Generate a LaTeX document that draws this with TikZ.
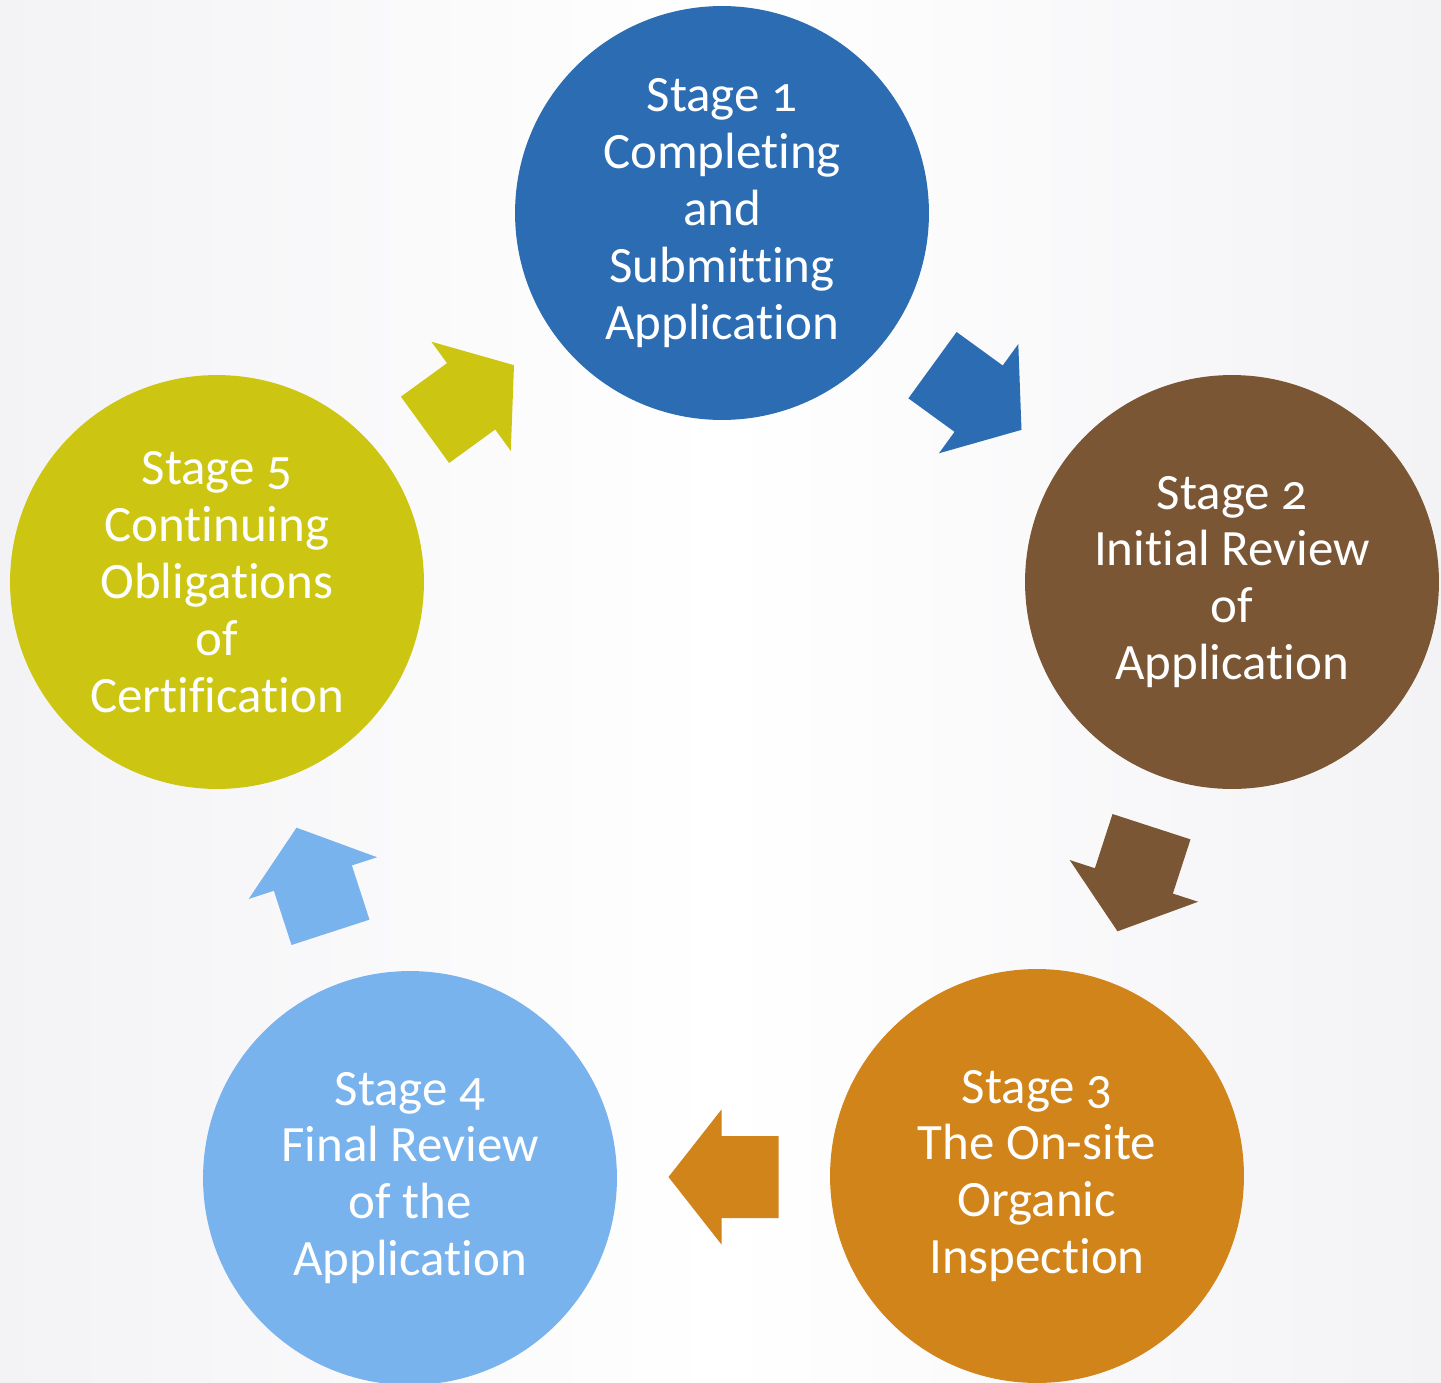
\documentclass[tikz,border=0pt]{standalone}
\usepackage{fontspec}
\setmainfont{Carlito}[Numbers=OldStyle,Ligatures=NoCommon]
\usepackage{tikz}
\usetikzlibrary{calc}

\definecolor{stageblue}{RGB}{43,108,178}
\definecolor{stagebrown}{RGB}{122,86,52}
\definecolor{stageorange}{RGB}{208,132,26}
\definecolor{stagesky}{RGB}{121,179,238}
\definecolor{stageolive}{RGB}{204,198,18}
\definecolor{paper}{RGB}{243,243,246}

\begin{document}
\begin{tikzpicture}[x=0.02cm,y=-0.02cm,
	stage node/.style={circle,minimum size=8.28cm,inner sep=0pt,text=white,
		align=center,font=\fontsize{29}{32.4}\selectfont},
	flow/.pic={\fill[#1] (-55,-41) -- (2,-41) -- (2,-67.5) -- (55,0)
		-- (2,67.5) -- (2,41) -- (-55,41) -- cycle;}]
	
	\shade[left color=paper,right color=paper,middle color=white] (0,0) rectangle (1441,1383);
	\useasboundingbox (0,0) rectangle (1441,1383);
	
	\node[stage node,fill=stageblue] (s1) at (722,213) {Stage 1\\Completing\\and\\Submitting\\Application};
	\node[stage node,fill=stagebrown] (s2) at (1232,582) {Stage 2\\Initial Review\\of\\Application};
	\node[stage node,fill=stageorange] (s3) at (1037,1176) {Stage 3\\The On-site\\Organic\\Inspection};
	\node[stage node,fill=stagesky] (s4) at (410,1178) {Stage 4\\Final Review\\of the\\Application};
	\node[stage node,fill=stageolive] (s5) at (217,582) {Stage 5\\Continuing\\Obligations\\of\\Certification};
	
	% arrows halfway between the circles
	\pic[rotate=-36] (f1) at ($(s1)!0.5!(s2)$) {flow=stageblue};
	\pic[rotate=-108] (f2) at ($(s2)!0.5!(s3)$) {flow=stagebrown};
	\pic[rotate=180] (f3) at ($(s3)!0.5!(s4)$) {flow=stageorange};
	\pic[rotate=108] (f4) at ($(s4)!0.5!(s5)$) {flow=stagesky};
	\pic[rotate=36] (f5) at ($(s5)!0.5!(s1)$) {flow=stageolive};
\end{tikzpicture}
\end{document}
